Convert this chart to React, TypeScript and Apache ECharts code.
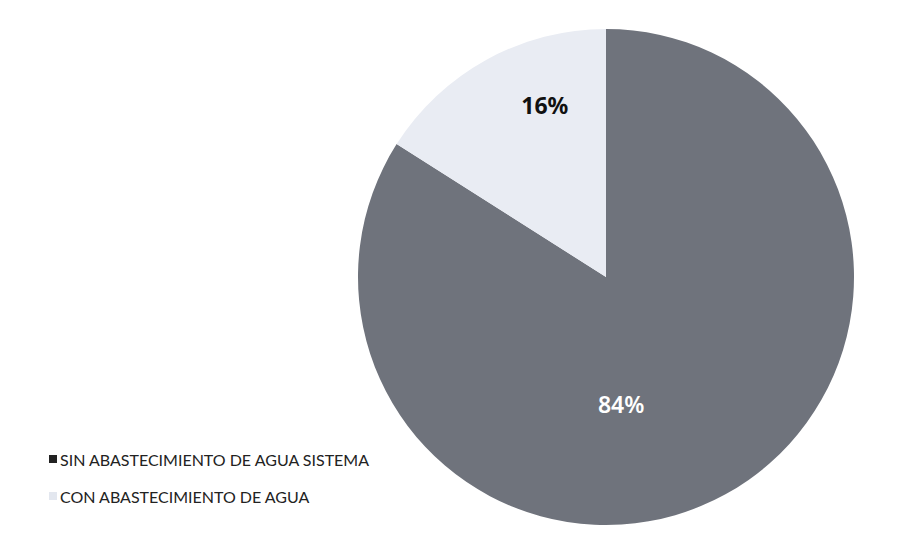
import React, { useEffect, useRef } from "react";
import * as echarts from "echarts";

const categories = ["SIN ABASTECIMIENTO DE AGUA SISTEMA", "CON ABASTECIMIENTO DE AGUA"];
const values = [84, 16];
const colors = ["#6f737c", "#e9ecf3"];
const iconColors = ["#222222", "#e3e7ef"];
const labelColors = ["#ffffff", "#111111"];

export default function App() {
  const ref = useRef<HTMLDivElement>(null);
  useEffect(() => {
    const chart = echarts.init(ref.current!, null, { renderer: "svg" });
    chart.setOption({
      animation: false,
      backgroundColor: "#ffffff",
      legend: {
        orient: "vertical",
        left: 36,
        top: 438,
        itemWidth: 8,
        itemHeight: 8,
        itemGap: 21,
        icon: "rect",
        textStyle: { fontFamily: "Lato", fontSize: 16, color: "#222222", padding: [0, 0, 0, -2] },
        data: categories.map((name, i) => ({ name, itemStyle: { color: iconColors[i] } })),
      },
      series: [
        {
          type: "pie",
          center: [598, 269],
          radius: 248,
          startAngle: 90,
          clockwise: true,
          silent: true,
          label: {
            position: "inside",
            formatter: "{c}%",
            fontFamily: "Noto Sans",
            fontSize: 23,
            fontWeight: "bold",
          },
          labelLine: { show: false },
          data: categories.map((name, i) => ({
            name,
            value: values[i],
            itemStyle: { color: colors[i] },
            label: {
              color: labelColors[i],
              fontWeight: i === 0 ? 600 : "bold",
              offset: i === 0 ? [-46, 16] : [0, -61],
            },
          })),
        },
      ],
    });
    return () => chart.dispose();
  }, []);
  return <div ref={ref} style={{ width: 895, height: 536 }} />;
}
